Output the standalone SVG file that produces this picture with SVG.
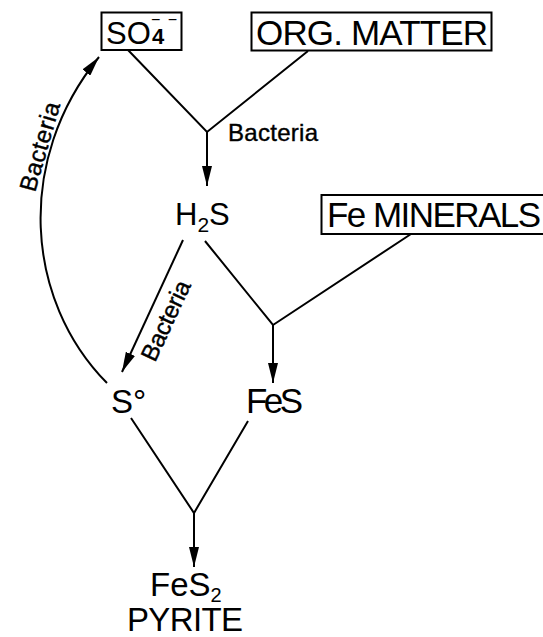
<svg xmlns="http://www.w3.org/2000/svg" width="543" height="637" viewBox="0 0 543 637">
<style>
.box{fill:#fff;stroke:#000;stroke-width:2}
.t{font-family:"Liberation Sans",Arial,sans-serif;font-size:35px;fill:#000}
.s{font-family:"Liberation Sans",Arial,sans-serif;font-size:24px;fill:#000;stroke:#000;stroke-width:0.4}
.c{fill:none;stroke:#000;stroke-width:2}
</style>
<defs>
<marker id="arr" viewBox="0 0 20 10" refX="20" refY="5" markerWidth="20" markerHeight="10" markerUnits="userSpaceOnUse" orient="auto">
<path d="M0,0 L20,5 L0,10 z" fill="#000"/>
</marker>
</defs>
<rect width="543" height="637" fill="#fff"/>
<g id="connectors">
<path class="c" d="M128,50 L207,132 L308,51"/>
<path class="c" d="M207,132 L207,186" marker-end="url(#arr)"/>
<path class="c" d="M205,241 L273,325 L411,234"/>
<path class="c" d="M273,325 L273,383" marker-end="url(#arr)"/>
<path class="c" d="M183,240 L122,372" marker-end="url(#arr)"/>
<path class="c" d="M107,383 C25,300 15,160 99,57" marker-end="url(#arr)"/>
<path class="c" d="M131,418 L194,513 L248,421"/>
<path class="c" d="M194,513 L194,567" marker-end="url(#arr)"/>
<text class="s" x="228" y="141" textLength="90">Bacteria</text>
<text class="s" transform="translate(35,193) rotate(-74)" textLength="92">Bacteria</text>
<text class="s" transform="translate(155,363) rotate(-65)" textLength="86">Bacteria</text>
</g>
<g id="so4">
<rect class="box" x="101.5" y="12.5" width="80" height="37.5"/>
<text class="t" x="106" y="44" style="font-size:31px">SO<tspan x="152" y="44" style="font-size:22px;font-weight:bold">4</tspan><tspan x="151" y="25" style="font-size:16px" textLength="26">−−</tspan></text>
</g>
<g id="org-matter">
<rect class="box" x="251.5" y="12.5" width="240" height="38"/>
<text class="t" x="256" y="44.5" textLength="232">ORG. MATTER</text>
</g>
<g id="h2s">
<text class="t" x="175" y="225" style="font-size:31px">H<tspan dy="7" style="font-size:21px">2</tspan><tspan dy="-7">S</tspan></text>
</g>
<g id="fe-minerals">
<rect class="box" x="321.5" y="195" width="230" height="39"/>
<text class="t" x="327" y="227" textLength="214">Fe MINERALS</text>
</g>
<g id="s0">
<text class="t" x="111" y="413" style="font-size:33px">S°</text>
</g>
<g id="fes">
<text class="t" x="246" y="413" textLength="57">FeS</text>
</g>
<g id="fes2">
<text class="t" x="150" y="596" style="font-size:33px">FeS<tspan dy="6" style="font-size:20px">2</tspan></text>
<text class="t" x="127" y="631" style="font-size:33px" textLength="116">PYRITE</text>
</g>
</svg>
